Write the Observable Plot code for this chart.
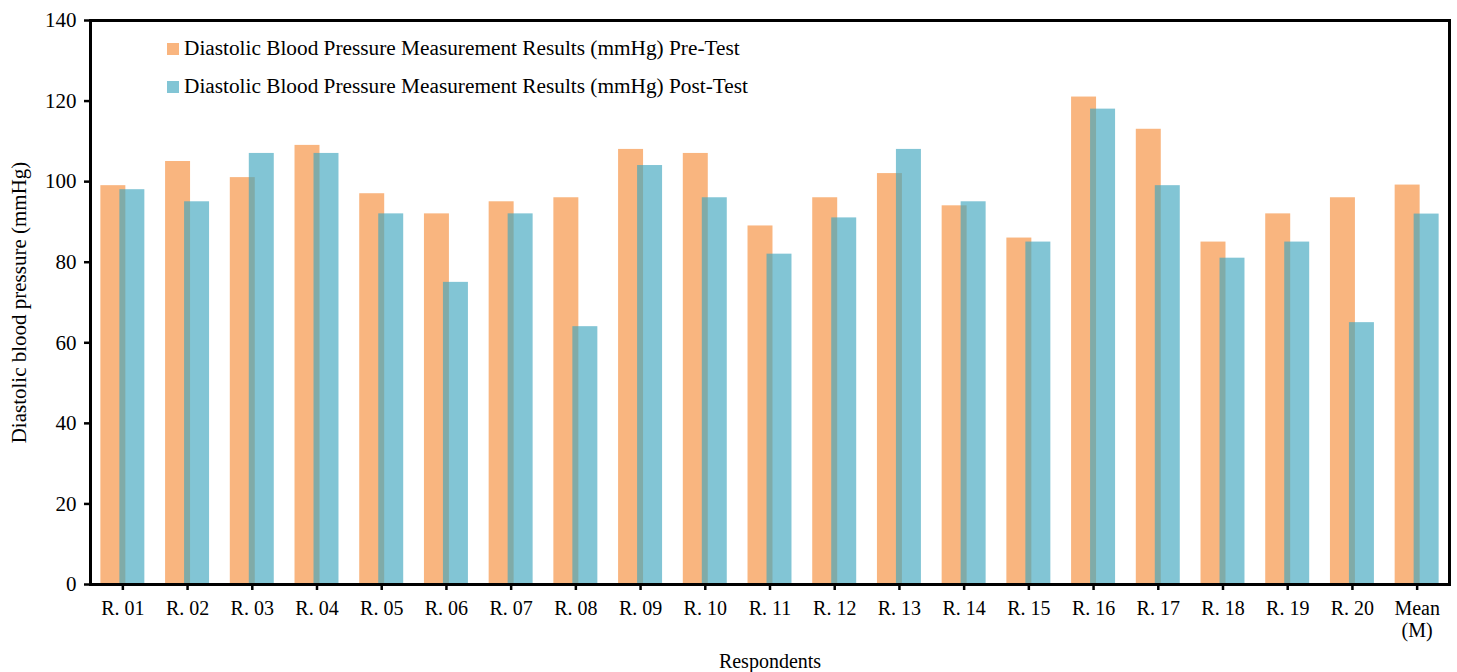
<!DOCTYPE html>
<html>
<head>
<meta charset="utf-8">
<script src="https://cdn.jsdelivr.net/npm/d3@7"></script>
<script src="https://cdn.jsdelivr.net/npm/@observablehq/plot@0.6"></script>
<style>
  body { margin: 0; background: #fff; }
  #chart { position: relative; width: 1457px; height: 672px; font-family: "Liberation Serif", "Times New Roman", serif; color: #000; }
  #chart svg { display: block; }
  .legend { position: absolute; left: 167px; top: 30px; font-size: 21.3px; line-height: 1; }
  .legend .item { display: flex; align-items: center; height: 38px; white-space: nowrap; }
  .legend .sw { width: 12px; height: 12px; margin-right: 5px; flex: none; }
</style>
</head>
<body>
<div id="chart"></div>
<script>
// Diastolic blood pressure (mmHg) per respondent, before and after the intervention
const respondents = ["R. 01", "R. 02", "R. 03", "R. 04", "R. 05", "R. 06", "R. 07", "R. 08", "R. 09", "R. 10",
                     "R. 11", "R. 12", "R. 13", "R. 14", "R. 15", "R. 16", "R. 17", "R. 18", "R. 19", "R. 20"];
const meanLabel = "Mean\n(M)";
const preTest  = [99, 105, 101, 109, 97, 92, 95, 96, 108, 107, 89, 96, 102, 94, 86, 121, 113, 85, 92, 96];
const postTest = [98, 95, 107, 107, 92, 75, 92, 64, 104, 96, 82, 91, 108, 95, 85, 118, 99, 81, 85, 65];
const yTicks = [0, 20, 40, 60, 80, 100, 120, 140];

const seriesNames = [
  "Diastolic Blood Pressure Measurement Results (mmHg) Pre-Test",
  "Diastolic Blood Pressure Measurement Results (mmHg) Post-Test"
];
const colors = { pre: "#F9B57F", post: "#3FA6BE" };
const postOpacity = 0.65;

const categories = [...respondents, meanLabel];
const toRows = (values) => [
  ...values.map((v, i) => ({ respondent: respondents[i], value: v })),
  { respondent: meanLabel, value: d3.mean(values) }
];
const preRows = toRows(preTest);
const postRows = toRows(postTest);

const font = `"Liberation Serif", "Times New Roman", serif`;

const chart = Plot.plot({
  width: 1457,
  height: 672,
  marginLeft: 90,
  marginRight: 8,
  marginTop: 20,
  marginBottom: 88,
  style: { fontFamily: font, fontSize: "20px", color: "#000", background: "#fff", overflow: "visible" },
  x: { domain: categories, paddingInner: 0.614, paddingOuter: 0.307, round: false },
  y: { domain: [0, 140] },
  marks: [
    Plot.barY(preRows, { x: "respondent", y: "value", fill: colors.pre, dx: -9.5 }),
    Plot.barY(postRows, { x: "respondent", y: "value", fill: colors.post, fillOpacity: postOpacity, dx: 9.5 }),
    Plot.axisY({
      ticks: yTicks, tickSize: 6, tickPadding: 8, strokeWidth: 2.5, fontSize: 21,
      label: "Diastolic blood pressure (mmHg)", labelAnchor: "center", labelArrow: "none", labelOffset: 79
    }),
    Plot.axisX({
      tickSize: 6, tickPadding: 9, strokeWidth: 2.5, fontSize: 20, lineHeight: 1.1,
      label: "Respondents", labelAnchor: "center", labelArrow: "none", labelOffset: 83
    }),
    Plot.frame({ stroke: "#000", strokeWidth: 3 })
  ]
});

const root = document.getElementById("chart");
root.appendChild(chart);

// legend sits inside the plot area, top left
const legend = document.createElement("div");
legend.className = "legend";
[[seriesNames[0], colors.pre, 1], [seriesNames[1], colors.post, postOpacity]].forEach(([name, color, op]) => {
  const item = document.createElement("div");
  item.className = "item";
  const sw = document.createElement("span");
  sw.className = "sw";
  sw.style.background = color;
  sw.style.opacity = op;
  const label = document.createElement("span");
  label.textContent = name;
  item.append(sw, label);
  legend.appendChild(item);
});
root.appendChild(legend);
</script>
</body>
</html>
